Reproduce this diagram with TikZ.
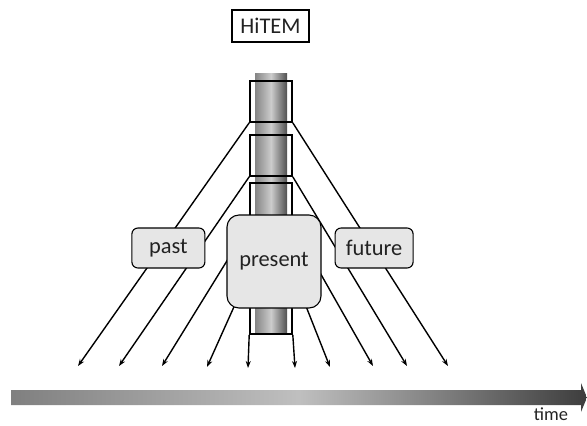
\documentclass[tikz,border=0pt]{standalone}
\usepackage{fontspec}
\setmainfont{Carlito}
\usepackage{tikz}
\usepackage{xcolor}
\usetikzlibrary{arrows.meta,positioning,shapes,calc}

\definecolor{pillarL}{HTML}{858585}
\definecolor{pillarM}{HTML}{CCCCCC}
\definecolor{pillarR}{HTML}{505050}
\definecolor{boxfill}{HTML}{E6E6E6}
\definecolor{txt}{HTML}{222222}

\begin{document}
\begin{tikzpicture}[x=1bp, y=-1bp,
		window/.style={rectangle, draw, line width=1.6bp, minimum width=42bp, minimum height=41bp, inner sep=0pt},
		era/.style={rectangle, draw, line width=1.1bp, rounded corners=6bp, fill=boxfill, text=txt, inner sep=0pt, font=\fontsize{22.5}{26}\selectfont},
		ray/.style={line width=1.4bp, -{Stealth[length=7bp, width=5bp]}}]
	\useasboundingbox (0,0) rectangle (587,425);

	% the HiTEM column
	\node[rectangle, draw, line width=1.3bp, minimum width=77bp, minimum height=32bp, inner sep=0pt, text=txt, font=\fontsize{22.5}{26}\selectfont] (hitem) at (270.5,26) {HiTEM};
	\shade[left color=pillarL, right color=pillarR, middle color=pillarM] (255,73) rectangle (287,333);

	\node[window] (w1) at (271,101.5) {};
	\node[window] (w2) at (271,155.5) {};
	\node[window] (w3) at (271,203.5) {};
	\node[window] (w4) at (271,251.5) {};
	\node[window] (w5) at (271,313.5) {};

	% ends of the rays on the time line
	\coordinate (l1) at (78,366);  \coordinate (r1) at (448,366);
	\coordinate (l2) at (119,366); \coordinate (r2) at (407,366);
	\coordinate (l3) at (162,366); \coordinate (r3) at (373,366);
	\coordinate (l4) at (207,367); \coordinate (r4) at (330,367);
	\coordinate (l5) at (248,368); \coordinate (r5) at (295,368);

	\foreach \i in {1,...,5} {
		\draw[ray] (w\i.south west) -- (l\i);
		\draw[ray] (w\i.south east) -- (r\i);
	}

	\node[era, rounded corners=12bp, minimum width=94bp, minimum height=93bp] (present) at (274,261.5) {present};
	\node[era, minimum width=73bp, minimum height=40bp, left=21bp of present, yshift=13.5bp] (past) {past};
	\node[era, minimum width=78bp, minimum height=40bp, right=13bp of present, yshift=13.5bp] (future) {future};

	% time axis
	\shade[left color=black!50, right color=black!76, middle color=black!25]
		(11,390) -- (581,390) -- (581,383) -- (587,397.5) -- (581,412) -- (581,405) -- (11,405) -- cycle;
	\node[text=txt, font=\fontsize{18.5}{22}\selectfont] (time) at (551,414) {time};
\end{tikzpicture}
\end{document}
